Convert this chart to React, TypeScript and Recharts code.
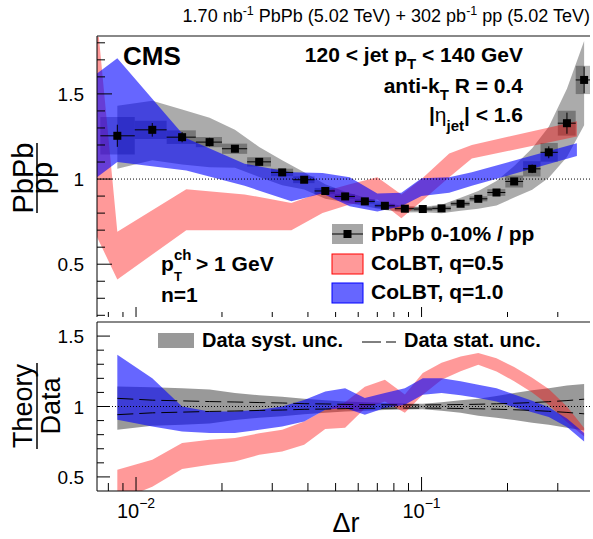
import React from "react"
import {
  Area,
  ComposedChart,
  ErrorBar,
  Line,
  ReferenceArea,
  ReferenceLine,
  Scatter,
  XAxis,
  YAxis,
} from "recharts"

const FONT = "'Liberation Sans', Arial, Helvetica, sans-serif"

// data bins in Δr
const binCenter = [0.0086, 0.0114, 0.0145, 0.0181, 0.0222, 0.027, 0.0325, 0.0388, 0.046, 0.054, 0.0633, 0.0744, 0.0874, 0.101, 0.1175, 0.137, 0.158, 0.183, 0.211, 0.244, 0.279, 0.323, 0.371]
const binLow = [0.0075, 0.0099, 0.0128, 0.0162, 0.02, 0.0245, 0.0297, 0.0355, 0.0422, 0.0497, 0.0584, 0.0686, 0.0806, 0.094, 0.109, 0.1266, 0.1473, 0.17, 0.1965, 0.2268, 0.261, 0.3, 0.3467]
const binHigh = [0.0099, 0.0128, 0.0162, 0.02, 0.0245, 0.0297, 0.0355, 0.0422, 0.0497, 0.0584, 0.0686, 0.0806, 0.094, 0.109, 0.1266, 0.1473, 0.17, 0.1965, 0.2268, 0.261, 0.3, 0.3467, 0.389]

// PbPb 0-10% / pp
const ratio = [1.254, 1.289, 1.246, 1.217, 1.178, 1.101, 1.039, 0.996, 0.93, 0.898, 0.869, 0.843, 0.826, 0.824, 0.828, 0.855, 0.884, 0.921, 0.986, 1.06, 1.157, 1.328, 1.582]
const ratioStat = [0.065, 0.04, 0.03, 0.025, 0.02, 0.02, 0.018, 0.014, 0.012, 0.012, 0.011, 0.011, 0.011, 0.011, 0.011, 0.012, 0.013, 0.015, 0.02, 0.025, 0.035, 0.062, 0.078]
const ratioSysBox = [0.11, 0.054, 0.04, 0.03, 0.03, 0.027, 0.022, 0.02, 0.018, 0.014, 0.013, 0.012, 0.012, 0.012, 0.012, 0.013, 0.015, 0.02, 0.035, 0.045, 0.055, 0.073, 0.083]
const ratioBandLo = [1.06, 1.11, 1.085, 1.07, 1.066, 1.012, 0.964, 0.939, 0.885, 0.864, 0.84, 0.819, 0.804, 0.805, 0.799, 0.814, 0.825, 0.845, 0.891, 0.937, 1.007, 1.13, 1.316]
const ratioBandHi = [1.43, 1.46, 1.409, 1.36, 1.29, 1.188, 1.11, 1.04, 0.969, 0.926, 0.892, 0.861, 0.84, 0.837, 0.849, 0.89, 0.93, 0.988, 1.077, 1.181, 1.307, 1.53, 1.81]

// CoLBT predictions (upper panel)
const theoryX = [0.0073, 0.0086, 0.015, 0.024, 0.035, 0.045, 0.056, 0.07, 0.085, 0.1, 0.125, 0.15, 0.35]
const q05Lo = [0.66, 0.41, 0.7, 0.7, 0.7, 0.8, 0.85, 0.88, 0.77, 0.87, 1.01, 1.12, 1.25]
const q05Hi = [1.95, 0.69, 0.94, 0.91, 0.86, 0.925, 0.97, 1.01, 0.91, 1.0, 1.15, 1.2, 1.34]
const q10Lo = [1.01, 1.1, 1.05, 0.96, 0.87, 0.915, 0.84, 0.81, 0.84, 0.9, 0.92, 0.96, 1.136]
const q10Hi = [1.62, 1.71, 1.24, 1.09, 1.04, 1.035, 1.01, 0.915, 0.92, 1.005, 1.01, 1.04, 1.21]

// Theory / Data (lower panel, at bin centers)
const q05RatioLo = [0.33, 0.43, 0.556, 0.587, 0.61, 0.657, 0.68, 0.728, 0.84, 0.85, 0.985, 1.035, 0.955, 1.083, 1.19, 1.25, 1.296, 1.248, 1.18, 1.1, 1.01, 0.89, 0.787]
const q05RatioHi = [0.551, 0.622, 0.74, 0.764, 0.776, 0.81, 0.835, 0.894, 0.977, 1.03, 1.14, 1.19, 1.085, 1.237, 1.31, 1.355, 1.379, 1.343, 1.28, 1.205, 1.125, 1.0, 0.847]
const q10RatioLo = [0.906, 0.858, 0.823, 0.811, 0.811, 0.835, 0.858, 0.894, 0.977, 0.989, 0.941, 0.989, 1.012, 1.083, 1.095, 1.08, 1.06, 1.035, 0.995, 0.96, 0.925, 0.855, 0.752]
const q10RatioHi = [1.367, 1.2, 1.0, 0.965, 0.965, 0.977, 1.0, 1.047, 1.106, 1.13, 1.06, 1.095, 1.13, 1.2, 1.2, 1.18, 1.154, 1.13, 1.085, 1.04, 0.995, 0.915, 0.811]
const dataSysLo = [0.835, 0.863, 0.87, 0.88, 0.905, 0.92, 0.93, 0.945, 0.955, 0.965, 0.97, 0.975, 0.978, 0.98, 0.97, 0.955, 0.935, 0.92, 0.905, 0.885, 0.87, 0.85, 0.83]
const dataSysHi = [1.142, 1.137, 1.13, 1.12, 1.095, 1.08, 1.07, 1.055, 1.045, 1.035, 1.03, 1.025, 1.022, 1.02, 1.03, 1.045, 1.055, 1.075, 1.095, 1.115, 1.13, 1.15, 1.16]
const dataStatRel = [0.058, 0.045, 0.04, 0.035, 0.032, 0.028, 0.025, 0.02, 0.018, 0.015, 0.013, 0.012, 0.011, 0.011, 0.012, 0.014, 0.016, 0.019, 0.023, 0.028, 0.034, 0.042, 0.052]

const xTicks = [0.008, 0.009, 0.01, 0.02, 0.03, 0.04, 0.05, 0.06, 0.07, 0.08, 0.09, 0.1, 0.2, 0.3]
const yTicksTop = [0.2, 0.3, 0.4, 0.5, 0.6, 0.7, 0.8, 0.9, 1, 1.1, 1.2, 1.3, 1.4, 1.5, 1.6, 1.7, 1.8]
const yTicksBottom = [0.5, 0.6, 0.7, 0.8, 0.9, 1, 1.1, 1.2, 1.3, 1.4, 1.5]
const X_DOMAIN = [0.0073, 0.389]

const pointRows = binCenter.map((x, i) => ({
  x,
  y: ratio[i],
  ex: [x - binLow[i], binHigh[i] - x],
  ey: ratioStat[i],
  band: [ratioBandLo[i], ratioBandHi[i]],
}))
const q05Rows = theoryX.map((x, i) => ({ x, band: [q05Lo[i], q05Hi[i]] }))
const q10Rows = theoryX.map((x, i) => ({ x, band: [q10Lo[i], q10Hi[i]] }))
const lowerRows = binCenter.map((x, i) => ({
  x,
  sys: [dataSysLo[i], dataSysHi[i]],
  statUp: 1 + dataStatRel[i],
  statDn: 1 - dataStatRel[i],
  q05: [q05RatioLo[i], q05RatioHi[i]],
  q10: [q10RatioLo[i], q10RatioHi[i]],
}))

const isMajorX = (v: number) => Math.abs(v - 0.01) < 1e-9 || Math.abs(v - 0.1) < 1e-9
const isMajorY = (v: number) => Math.abs(v * 2 - Math.round(v * 2)) < 1e-6

function XTick(props: any) {
  const { x, y, payload, len, minorLen, labels } = props
  const v = payload.value
  const major = isMajorX(v)
  return (
    <g>
      <line x1={x} x2={x} y1={y} y2={y - (major ? len : minorLen)} stroke="#000" strokeWidth={1} />
      {labels && major && (
        <text x={x} y={y + 27} textAnchor="middle" fontFamily={FONT} fontSize={20} fill="#000">
          10<tspan dy={-10} fontSize={14}>{v < 0.05 ? "\u22122" : "\u22121"}</tspan>
        </text>
      )}
    </g>
  )
}

function YTick(props: any) {
  const { x, y, payload, len, minorLen } = props
  const v = payload.value
  const major = isMajorY(v)
  return (
    <g>
      <line x1={x} x2={x + (major ? len : minorLen)} y1={y} y2={y} stroke="#000" strokeWidth={1} />
      {major && (
        <text x={x - 13} y={y + 7} textAnchor="end" fontFamily={FONT} fontSize={19} fill="#000">
          {String(v)}
        </text>
      )}
    </g>
  )
}

const square = (p: any) => <rect x={p.cx - 4} y={p.cy - 4} width={8} height={8} fill="#000" />

function UpperPanel() {
  return (
    <ComposedChart width={593} height={330} margin={{ top: 35, right: 3, bottom: 12, left: 96 }}>
      <XAxis xAxisId="b" type="number" dataKey="x" scale="log" domain={X_DOMAIN} allowDataOverflow ticks={xTicks} interval={0}
        height={1} tickSize={0} tickMargin={0} axisLine={false} tickLine={false}
        tick={(p: any) => <XTick {...p} len={10} minorLen={5} labels={false} />} />
      <XAxis xAxisId="t" orientation="top" type="number" dataKey="x" scale="log" domain={X_DOMAIN} allowDataOverflow
        height={1} tick={false} tickLine={false} axisLine={{ stroke: "#888", strokeWidth: 2 }} />
      <YAxis type="number" dataKey="y" domain={[0.19, 1.84]} allowDataOverflow ticks={yTicksTop} interval={0}
        width={1} tickSize={0} tickMargin={0} axisLine={{ stroke: "#000" }} tickLine={false}
        tick={(p: any) => <YTick {...p} len={15} minorLen={8} />} />

      <Area xAxisId="b" data={pointRows} dataKey="band" type="linear" stroke="none" fill="#000" fillOpacity={0.33} isAnimationActive={false} />
      {pointRows.map((r, i) => (
        <ReferenceArea key={i} xAxisId="b" x1={binLow[i]} x2={binHigh[i]} y1={r.y - ratioSysBox[i]} y2={r.y + ratioSysBox[i]}
          fill="#000" fillOpacity={0.3} stroke="none" ifOverflow="hidden" />
      ))}
      <ReferenceLine xAxisId="b" y={1} stroke="#000" strokeDasharray="1 2" strokeWidth={1} />
      <Scatter xAxisId="b" data={pointRows} dataKey="y" shape={square} isAnimationActive={false}>
        <ErrorBar dataKey="ex" direction="x" width={0} stroke="#000" strokeWidth={1} isAnimationActive={false} />
        <ErrorBar dataKey="ey" direction="y" width={0} stroke="#000" strokeWidth={1} isAnimationActive={false} />
      </Scatter>
      <Area xAxisId="b" data={q05Rows} dataKey="band" type="linear" stroke="none" fill="#ff0000" fillOpacity={0.4} isAnimationActive={false} />
      <Area xAxisId="b" data={q10Rows} dataKey="band" type="linear" stroke="none" fill="#0000ff" fillOpacity={0.6} isAnimationActive={false} />
    </ComposedChart>
  )
}

function LowerPanel() {
  return (
    <ComposedChart width={593} height={239} data={lowerRows} margin={{ top: 21, right: 3, bottom: 47, left: 96 }}>
      <XAxis xAxisId="b" type="number" dataKey="x" scale="log" domain={X_DOMAIN} allowDataOverflow ticks={xTicks} interval={0}
        height={1} tickSize={0} tickMargin={0} axisLine={{ stroke: "#000" }} tickLine={false}
        tick={(p: any) => <XTick {...p} len={14} minorLen={8} labels />} />
      <XAxis xAxisId="t" orientation="top" type="number" dataKey="x" scale="log" domain={X_DOMAIN} allowDataOverflow
        height={1} tick={false} tickLine={false} axisLine={{ stroke: "#888", strokeWidth: 2 }} />
      <YAxis type="number" domain={[0.4, 1.6]} allowDataOverflow ticks={yTicksBottom} interval={0}
        width={1} tickSize={0} tickMargin={0} axisLine={{ stroke: "#000" }} tickLine={false}
        tick={(p: any) => <YTick {...p} len={13} minorLen={7} />} />

      <Area xAxisId="b" dataKey="sys" type="linear" stroke="none" fill="#000" fillOpacity={0.4} isAnimationActive={false} />
      <Line xAxisId="b" dataKey="statUp" type="linear" stroke="#000" strokeWidth={1} strokeDasharray="16 6" dot={false} isAnimationActive={false} />
      <Line xAxisId="b" dataKey="statDn" type="linear" stroke="#000" strokeWidth={1} strokeDasharray="16 6" dot={false} isAnimationActive={false} />
      <ReferenceLine xAxisId="b" y={1} stroke="#000" strokeDasharray="1 2" strokeWidth={1} />
      <Area xAxisId="b" dataKey="q05" type="linear" stroke="none" fill="#ff0000" fillOpacity={0.4} isAnimationActive={false} />
      <Area xAxisId="b" dataKey="q10" type="linear" stroke="none" fill="#0000ff" fillOpacity={0.6} isAnimationActive={false} />
    </ComposedChart>
  )
}

function Labels() {
  const bold = { fontFamily: FONT, fontWeight: 700, fill: "#000" }
  return (
    <svg width={593} height={539} style={{ position: "absolute", left: 0, top: 0, pointerEvents: "none" }}>
      <text x={590} y={22} textAnchor="end" fontFamily={FONT} fontSize={18}>
        1.70 nb<tspan dy={-7} fontSize={12.5}>-1</tspan>
        <tspan dy={7}> PbPb (5.02 TeV) + 302 pb</tspan>
        <tspan dy={-7} fontSize={12.5}>-1</tspan>
        <tspan dy={7}> pp (5.02 TeV)</tspan>
      </text>

      <text x={123} y={65} fontSize={26} {...bold}>CMS</text>
      <text x={523} y={62} textAnchor="end" fontSize={21} {...bold}>
        120 &lt; jet p<tspan dy={7} fontSize={15}>T</tspan><tspan dy={-7}> &lt; 140 GeV</tspan>
      </text>
      <text x={523} y={93} textAnchor="end" fontSize={21} {...bold}>
        anti-k<tspan dy={7} fontSize={15}>T</tspan><tspan dy={-7}> R = 0.4</tspan>
      </text>
      <text x={523} y={122} textAnchor="end" fontSize={21} {...bold}>
        |<tspan fontWeight={400}>η</tspan><tspan dy={9} fontSize={15}>jet</tspan><tspan dy={-9}>| &lt; 1.6</tspan>
      </text>

      <text x={161} y={271} fontSize={21} {...bold}>p</text>
      <text x={174} y={260} fontSize={15} {...bold}>ch</text>
      <text x={174} y={281} fontSize={13} {...bold}>T</text>
      <text x={196} y={271} fontSize={21} {...bold}>&gt; 1 GeV</text>
      <text x={161} y={302} fontSize={21} {...bold}>n=1</text>

      {/* upper legend */}
      <rect x={332} y={224} width={31} height={20} fill="#000" fillOpacity={0.35} />
      <line x1={332} x2={363} y1={234} y2={234} stroke="#000" />
      <rect x={343.5} y={230} width={8} height={8} fill="#000" />
      <text x={371} y={241} fontSize={21} {...bold}>PbPb 0-10% / pp</text>
      <rect x={332} y={254} width={31} height={20} fill="#ff0000" fillOpacity={0.4} stroke="#ff0000" />
      <text x={371} y={270} fontSize={21} {...bold}>CoLBT, q=0.5</text>
      <rect x={332} y={283} width={31} height={20} fill="#0000ff" fillOpacity={0.6} stroke="#0000ff" />
      <text x={371} y={299} fontSize={21} {...bold}>CoLBT, q=1.0</text>

      {/* lower legend */}
      <rect x={158} y={333} width={36} height={15} fill="#000" fillOpacity={0.4} />
      <text x={202} y={347} fontSize={20} {...bold}>Data syst. unc.</text>
      <line x1={362} x2={396} y1={342} y2={342} stroke="#000" strokeDasharray="19 5 10" />
      <text x={404} y={347} fontSize={20} {...bold}>Data stat. unc.</text>

      {/* axis titles */}
      <g transform="translate(33,178) rotate(-90)">
        <text x={0} y={0} textAnchor="middle" fontFamily={FONT} fontSize={29}>PbPb</text>
      </g>
      <line x1={37} x2={37} y1={143} y2={213} stroke="#000" strokeWidth={1.5} />
      <g transform="translate(52,178) rotate(-90)">
        <text x={0} y={0} textAnchor="middle" fontFamily={FONT} fontSize={29}>pp</text>
      </g>
      <g transform="translate(32,406) rotate(-90)">
        <text x={0} y={0} textAnchor="middle" fontFamily={FONT} fontSize={27}>Theory</text>
      </g>
      <line x1={37} x2={37} y1={363} y2={449} stroke="#000" strokeWidth={1.5} />
      <g transform="translate(60,406) rotate(-90)">
        <text x={0} y={0} textAnchor="middle" fontFamily={FONT} fontSize={27}>Data</text>
      </g>
      <text x={346} y={532} textAnchor="middle" fontFamily={FONT} fontSize={27}>Δr</text>
    </svg>
  )
}

export default function App() {
  return (
    <div style={{ position: "absolute", left: 0, top: 0, width: 593, height: 539, background: "#fff", overflow: "hidden" }}>
      <div style={{ position: "absolute", left: 0, top: 0 }}>
        <UpperPanel />
      </div>
      <div style={{ position: "absolute", left: 0, top: 300 }}>
        <LowerPanel />
      </div>
      <Labels />
    </div>
  )
}
